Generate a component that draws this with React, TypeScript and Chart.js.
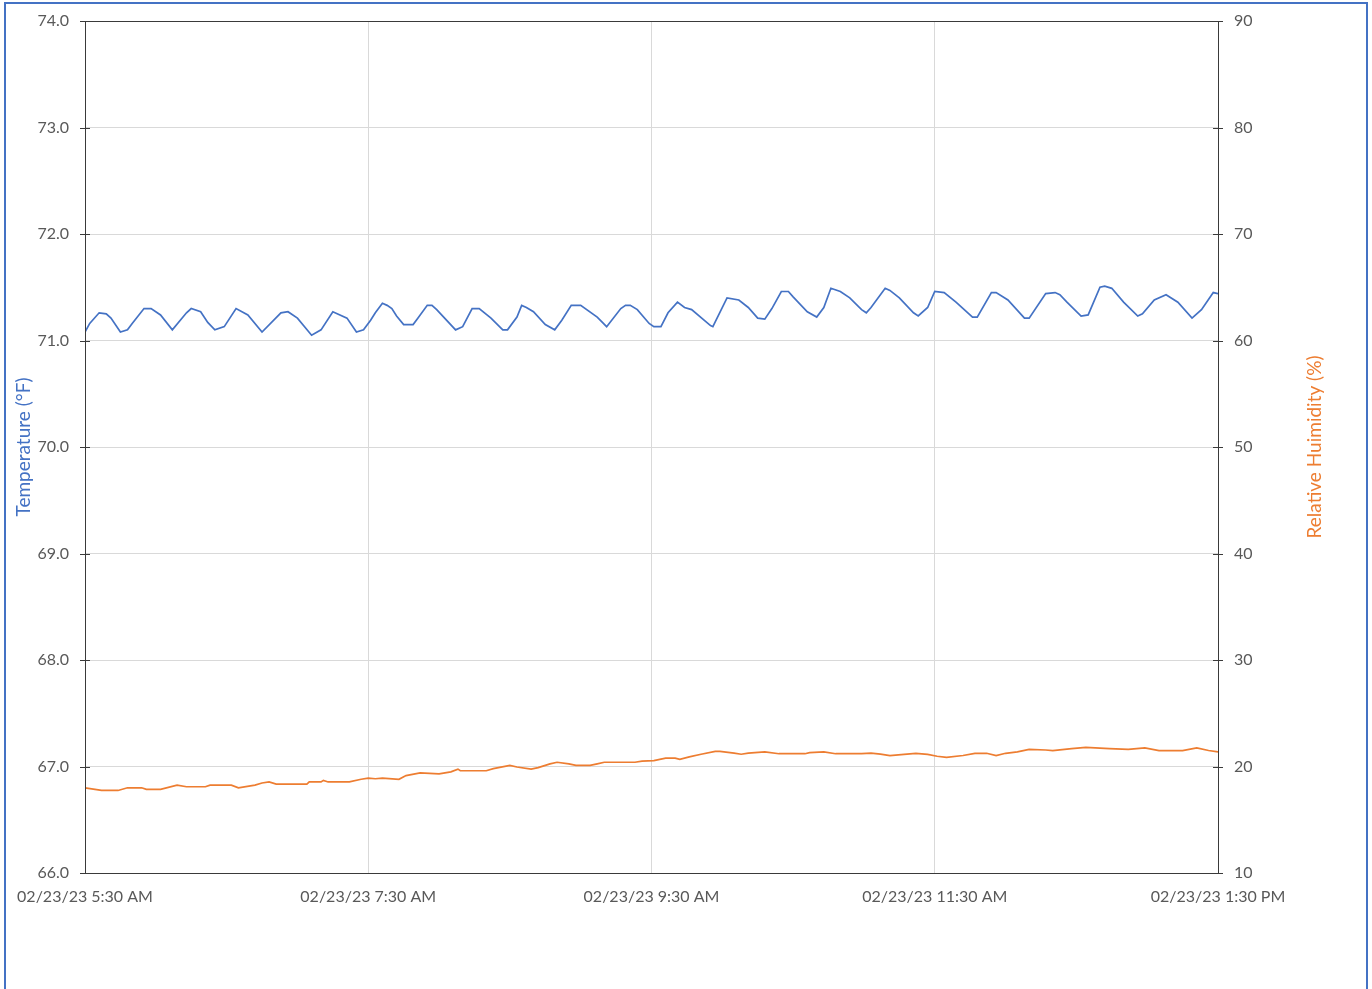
import React, { useEffect, useRef } from "react";
import { Chart, registerables } from "chart.js";

Chart.register(...registerables);

// minutes after 02/23/23 5:30 AM
const tempMinutes = [0,2,6,9,11,15,18,20,25,28,32,37,43,45,49,52,55,59,64,69,75,83,86,90,96,100,105,111,115,118,121,123,126,128,130,132,135,139,141,145,147,149,157,160,164,167,172,177,179,183,185,187,190,195,199,202,206,210,217,221,227,229,231,234,239,241,244,247,251,254,257,265,266,272,277,281,285,288,291,295,298,300,306,310,313,316,320,324,329,331,333,339,341,345,351,353,357,360,364,369,376,378,384,386,391,398,400,407,411,413,416,422,425,430,432,435,440,446,448,453,458,463,469,473,478,480];
const tempValues = [71.08,71.16,71.26,71.25,71.21,71.08,71.10,71.16,71.30,71.30,71.24,71.10,71.26,71.30,71.27,71.17,71.10,71.13,71.30,71.24,71.08,71.26,71.27,71.21,71.05,71.10,71.27,71.21,71.08,71.10,71.19,71.26,71.35,71.33,71.30,71.23,71.15,71.15,71.21,71.33,71.33,71.29,71.10,71.13,71.30,71.30,71.21,71.10,71.10,71.22,71.33,71.31,71.27,71.15,71.10,71.19,71.33,71.33,71.22,71.13,71.30,71.33,71.33,71.29,71.16,71.13,71.13,71.26,71.36,71.31,71.29,71.14,71.13,71.40,71.38,71.31,71.21,71.20,71.30,71.46,71.46,71.41,71.27,71.22,71.31,71.49,71.46,71.40,71.29,71.26,71.31,71.49,71.47,71.40,71.26,71.23,71.31,71.46,71.45,71.36,71.22,71.22,71.45,71.45,71.38,71.21,71.21,71.44,71.45,71.43,71.36,71.23,71.24,71.50,71.51,71.49,71.36,71.23,71.25,71.38,71.43,71.36,71.21,71.29,71.45,71.44];

const humMinutes = [0,7,14,18,24,26,32,39,43,51,53,62,65,72,75,78,81,94,95,100,101,103,112,117,120,123,126,133,136,142,150,155,158,159,170,173,180,183,189,192,197,200,205,208,214,217,220,233,236,241,246,250,252,256,261,267,269,275,278,281,288,294,305,307,313,318,329,333,337,341,347,352,357,361,365,372,377,382,386,390,395,400,407,410,418,424,434,442,449,455,465,471,476,480];
const humValues = [18.0,17.75,17.75,18.0,18.0,17.85,17.85,18.25,18.1,18.1,18.25,18.25,18.0,18.25,18.45,18.55,18.35,18.35,18.55,18.55,18.7,18.55,18.55,18.8,18.9,18.85,18.9,18.8,19.15,19.4,19.3,19.5,19.75,19.6,19.6,19.8,20.1,19.95,19.75,19.9,20.25,20.4,20.25,20.1,20.1,20.25,20.4,20.4,20.5,20.55,20.78,20.78,20.68,20.9,21.15,21.42,21.42,21.25,21.15,21.25,21.38,21.2,21.2,21.3,21.38,21.2,21.2,21.25,21.17,21.03,21.14,21.24,21.14,20.96,20.85,21.03,21.24,21.24,21.03,21.24,21.38,21.6,21.55,21.5,21.67,21.8,21.67,21.6,21.74,21.5,21.5,21.74,21.5,21.38];

const xTickLabels = ["02/23/23 5:30 AM", "02/23/23 7:30 AM", "02/23/23 9:30 AM", "02/23/23 11:30 AM", "02/23/23 1:30 PM"];
const xTickStep = 120;

const tempTitle = "Temperature (°F)";
const humTitle = "Relative Huimidity (%)";

const FONT = "Lato, 'Open Sans', sans-serif";
const GRAY = "#595959";
const AXIS = "#3a3a3a";
const BLUE = "#4472C4";
const ORANGE = "#ED7D31";

const framePlugin = {
  id: "frame",
  afterDraw(chart: any) {
    const { ctx, chartArea: a, scales } = chart;
    ctx.save();
    ctx.strokeStyle = AXIS;
    ctx.lineWidth = 1;
    ctx.strokeRect(Math.round(a.left) + 0.5, Math.round(a.top) + 0.5, Math.round(a.right - a.left), Math.round(a.bottom - a.top));
    ctx.beginPath();
    scales.y.ticks.forEach((t: any) => {
      const yy = Math.round(scales.y.getPixelForValue(t.value)) + 0.5;
      ctx.moveTo(a.left - 5, yy);
      ctx.lineTo(a.left + 5, yy);
    });
    scales.y1.ticks.forEach((t: any) => {
      const yy = Math.round(scales.y1.getPixelForValue(t.value)) + 0.5;
      ctx.moveTo(a.right - 5, yy);
      ctx.lineTo(a.right + 5, yy);
    });
    ctx.stroke();
    // axis titles, both reading bottom-to-top
    const cy = (a.top + a.bottom) / 2;
    ctx.font = `19px ${FONT}`;
    ctx.textAlign = "center";
    ctx.textBaseline = "middle";
    ctx.save();
    ctx.translate(24, cy);
    ctx.rotate(-Math.PI / 2);
    ctx.fillStyle = BLUE;
    ctx.fillText(tempTitle, 0, 0);
    ctx.restore();
    ctx.save();
    ctx.translate(1315, cy);
    ctx.rotate(-Math.PI / 2);
    ctx.fillStyle = ORANGE;
    ctx.fillText(humTitle, 0, 0);
    ctx.restore();
    ctx.restore();
  },
};

const fitVertical = (w: number) => (s: any) => {
  s.width = w;
  s.paddingTop = 0;
  s.paddingBottom = 0;
};

export default function App() {
  const ref = useRef<HTMLCanvasElement | null>(null);
  useEffect(() => {
    if (!ref.current) return;
    const chart = new Chart(ref.current, {
      type: "line",
      data: {
        datasets: [
          {
            label: tempTitle,
            data: tempMinutes.map((m, i) => ({ x: m, y: tempValues[i] })),
            borderColor: BLUE,
            borderWidth: 1.7,
            pointRadius: 0,
            tension: 0,
            yAxisID: "y",
          },
          {
            label: humTitle,
            data: humMinutes.map((m, i) => ({ x: m, y: humValues[i] })),
            borderColor: ORANGE,
            borderWidth: 1.7,
            pointRadius: 0,
            tension: 0,
            yAxisID: "y1",
          },
        ],
      },
      options: {
        animation: false,
        responsive: false,
        events: [],
        layout: { padding: { top: 21, left: 0, right: 0, bottom: 0 } },
        plugins: { legend: { display: false }, tooltip: { enabled: false } },
        scales: {
          x: {
            type: "linear",
            min: 0,
            max: 480,
            afterFit: (s: any) => { s.height = 116; s.paddingLeft = 0; s.paddingRight = 0; },
            afterBuildTicks: (s: any) => {
              s.ticks = xTickLabels.map((_, i) => ({ value: i * xTickStep }));
            },
            ticks: {
              autoSkip: false,
              maxRotation: 0,
              minRotation: 0,
              padding: 14,
              color: GRAY,
              font: { family: FONT, size: 16 },
              callback: (v: any) => xTickLabels[Math.round(Number(v) / xTickStep)] ?? "",
            },
            grid: { color: "#d9d9d9", lineWidth: 1, drawTicks: false },
            border: { display: false },
          },
          y: {
            type: "linear",
            position: "left",
            min: 66,
            max: 74,
            afterFit: fitVertical(85),
            ticks: {
              stepSize: 1,
              padding: 16,
              color: GRAY,
              font: { family: FONT, size: 16 },
              callback: (v: any) => Number(v).toFixed(1),
            },
            grid: { color: "#d9d9d9", lineWidth: 1, drawTicks: false },
            border: { display: false },
          },
          y1: {
            type: "linear",
            position: "right",
            min: 10,
            max: 90,
            afterFit: fitVertical(154),
            ticks: {
              stepSize: 10,
              padding: 16,
              color: GRAY,
              font: { family: FONT, size: 16 },
            },
            grid: { drawOnChartArea: false, drawTicks: false },
            border: { display: false },
          },
        },
      },
      plugins: [framePlugin],
    } as any);
    return () => chart.destroy();
  }, []);

  return (
    <div style={{ position: "fixed", left: 0, top: 0, width: 1372, height: 989, background: "#fff", overflow: "hidden" }}>
      <canvas ref={ref} width={1372} height={989} style={{ position: "absolute", left: 0, top: 0 }} />
      <div
        style={{
          position: "absolute",
          left: 4,
          top: 2,
          width: 1364,
          height: 1010,
          border: "2px solid #4472C4",
          boxSizing: "border-box",
          pointerEvents: "none",
        }}
      />
    </div>
  );
}
